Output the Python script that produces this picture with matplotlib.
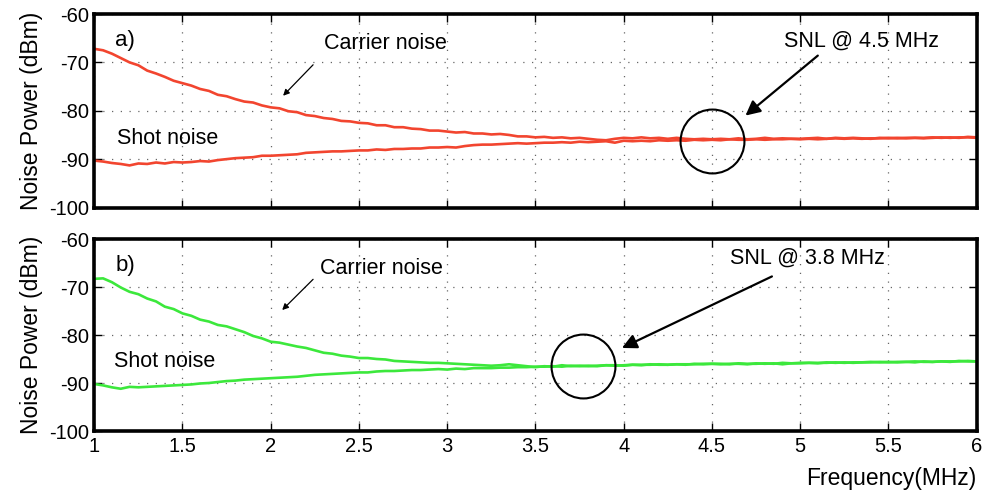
import numpy as np
import matplotlib
matplotlib.use("Agg")
import matplotlib.pyplot as plt

plt.rcParams['font.family'] = ['Liberation Sans', 'DejaVu Sans']
plt.rcParams['axes.unicode_minus'] = False

freq = np.round(np.arange(1.0, 6.0001, 0.05), 2)

a_carrier = [-67.2, -67.5, -68.2, -69.1, -70.0, -70.6, -71.7, -72.3, -73.0, -73.8,
             -74.3, -74.8, -75.5, -75.9, -76.7, -77.0, -77.6, -78.1, -78.3, -78.9,
             -79.3, -79.5, -80.1, -80.3, -80.9, -81.1, -81.5, -81.7, -82.1, -82.2,
             -82.5, -82.6, -83.0, -83.0, -83.4, -83.4, -83.7, -83.8, -84.1, -84.1,
             -84.3, -84.5, -84.4, -84.7, -84.7, -84.9, -84.8, -85.0, -85.3, -85.3,
             -85.5, -85.4, -85.6, -85.5, -85.7, -85.6, -85.8, -86.0, -86.1, -85.8,
             -85.6, -85.7, -85.5, -85.7, -85.6, -85.8, -85.6, -85.8, -85.9, -85.8,
             -85.9, -85.8, -85.9, -85.7, -85.9, -85.8, -85.6, -85.8, -85.7, -85.8,
             -85.8, -85.7, -85.6, -85.8, -85.6, -85.7, -85.6, -85.7, -85.8, -85.6,
             -85.7, -85.6, -85.7, -85.6, -85.6, -85.5, -85.6, -85.5, -85.6, -85.4,
             -85.5]
a_shot = [-90.3, -90.5, -90.8, -91.0, -91.3, -90.9, -91.0, -90.7, -90.9, -90.6,
          -90.7, -90.6, -90.4, -90.5, -90.2, -90.0, -89.8, -89.7, -89.6, -89.3,
          -89.3, -89.2, -89.1, -89.0, -88.7, -88.6, -88.5, -88.4, -88.4, -88.3,
          -88.2, -88.2, -88.0, -88.1, -87.9, -87.9, -87.8, -87.8, -87.6, -87.6,
          -87.5, -87.6, -87.3, -87.1, -87.0, -87.0, -86.9, -86.8, -86.7, -86.8,
          -86.7, -86.6, -86.6, -86.5, -86.6, -86.4, -86.5, -86.4, -86.3, -86.6,
          -86.2, -86.3, -86.2, -86.3, -86.1, -86.2, -86.1, -86.2, -86.0, -86.1,
          -86.0, -86.1, -85.9, -86.0, -86.0, -85.9, -86.0, -85.9, -85.9, -85.8,
          -85.9, -85.8, -85.9, -85.8, -85.7, -85.8, -85.7, -85.8, -85.7, -85.7,
          -85.6, -85.7, -85.6, -85.6, -85.7, -85.6, -85.5, -85.6, -85.5, -85.5,
          -85.6]
b_carrier = [-68.3, -68.2, -69.0, -70.1, -71.0, -71.5, -72.4, -73.0, -74.1, -74.6,
             -75.5, -76.0, -76.8, -77.2, -77.9, -78.2, -78.8, -79.4, -80.2, -80.7,
             -81.4, -81.6, -82.0, -82.4, -82.7, -83.2, -83.7, -83.9, -84.3, -84.5,
             -84.8, -84.8, -85.0, -85.1, -85.4, -85.5, -85.6, -85.7, -85.8, -85.8,
             -85.9, -86.0, -86.1, -86.2, -86.3, -86.4, -86.3, -86.1, -86.3, -86.5,
             -86.7, -86.5, -86.6, -86.3, -86.5, -86.4, -86.5, -86.4, -86.3, -86.4,
             -86.3, -86.2, -86.3, -86.1, -86.2, -86.2, -86.1, -86.2, -86.0, -86.1,
             -86.0, -86.1, -86.0, -86.0, -86.1, -85.9, -86.0, -85.9, -86.1, -85.9,
             -85.8, -85.8, -85.9, -85.7, -85.8, -85.7, -85.8, -85.7, -85.7, -85.6,
             -85.7, -85.6, -85.6, -85.7, -85.5, -85.6, -85.5, -85.6, -85.4, -85.5,
             -85.5]
b_shot = [-90.2, -90.5, -90.9, -91.2, -90.8, -90.9, -90.8, -90.7, -90.6, -90.5,
          -90.4, -90.3, -90.1, -90.0, -89.8, -89.6, -89.5, -89.3, -89.2, -89.1,
          -89.0, -88.9, -88.8, -88.7, -88.5, -88.3, -88.2, -88.1, -88.0, -87.9,
          -87.8, -87.8, -87.6, -87.5, -87.5, -87.4, -87.3, -87.3, -87.2, -87.1,
          -87.2, -87.0, -87.1, -86.9, -86.9, -86.9, -86.8, -86.8, -86.7, -86.7,
          -86.6, -86.6, -86.5, -86.6, -86.4, -86.5, -86.4, -86.5, -86.3, -86.3,
          -86.4, -86.2, -86.2, -86.2, -86.1, -86.2, -86.1, -86.1, -86.1, -86.0,
          -86.0, -86.0, -86.1, -85.9, -86.0, -86.0, -85.9, -86.0, -85.8, -85.9,
          -85.9, -85.8, -85.8, -85.8, -85.7, -85.8, -85.7, -85.7, -85.6, -85.7,
          -85.6, -85.7, -85.6, -85.5, -85.6, -85.6, -85.5, -85.5, -85.5, -85.4,
          -85.5]

x_ticks = [1, 1.5, 2, 2.5, 3, 3.5, 4, 4.5, 5, 5.5, 6]
x_ticklabels = ['1', '1.5', '2', '2.5', '3', '3.5', '4', '4.5', '5', '5.5', '6']
y_ticks = [-100, -90, -80, -70, -60]
y_ticklabels = ['-100', '-90', '-80', '-70', '-60']

panels = [
    dict(tag='a)', carrier=a_carrier, shot=a_shot, color='#f2452f',
         snl_text='SNL @ 4.5 MHz', snl_f=4.5, snl_db=-86.3,
         snl_text_xy=(5.35, -65.6), snl_arrow_start=(5.1, -68.6), snl_arrow_end=(4.69, -81.0),
         car_text_xy=(2.3, -66.2), car_start=(2.24, -70.5), car_end=(2.07, -76.9),
         shot_xy=(1.13, -85.8)),
    dict(tag='b)', carrier=b_carrier, shot=b_shot, color='#3ce83c',
         snl_text='SNL @ 3.8 MHz', snl_f=3.77, snl_db=-86.4,
         snl_text_xy=(5.04, -64.1), snl_arrow_start=(4.84, -67.8), snl_arrow_end=(3.99, -82.7),
         car_text_xy=(2.28, -66.1), car_start=(2.24, -68.4), car_end=(2.065, -74.8),
         shot_xy=(1.11, -85.6)),
]

fig = plt.figure(figsize=(9.87, 5.0), dpi=100)
ax_top = fig.add_axes([0.0955, 0.585, 0.894, 0.387])
ax_bot = fig.add_axes([0.0955, 0.138, 0.894, 0.384])

for ax, p in zip([ax_top, ax_bot], panels):
    ax.plot(freq, p['carrier'], color=p['color'], lw=1.9, solid_joinstyle='round')
    ax.plot(freq, p['shot'], color=p['color'], lw=1.9, solid_joinstyle='round')
    ax.set_xlim(1, 6)
    ax.set_ylim(-100, -60)
    ax.set_xticks(x_ticks)
    ax.set_yticks(y_ticks)
    ax.set_yticklabels(y_ticklabels)
    ax.grid(True, color='#666666', linestyle=(0, (1, 6)), linewidth=0.9)
    ax.tick_params(direction='in', top=True, right=True, length=6, width=1,
                   labelsize=14.5, pad=4)
    for s in ax.spines.values():
        s.set_linewidth(2.6)
    ax.set_ylabel('Noise Power (dBm)', fontsize=16.5, labelpad=4)

    ax.text(1.12, -65.5, p['tag'], fontsize=16, ha='left', va='center')
    ax.text(p['car_text_xy'][0], p['car_text_xy'][1], 'Carrier noise', fontsize=15.5,
            ha='left', va='center')
    ax.annotate('', xy=p['car_end'], xytext=p['car_start'],
                arrowprops=dict(arrowstyle='-|>', color='black', lw=0.9,
                                mutation_scale=9, shrinkA=0, shrinkB=0))
    ax.text(p['shot_xy'][0], p['shot_xy'][1], 'Shot noise', fontsize=15.5,
            ha='left', va='center')
    ax.text(p['snl_text_xy'][0], p['snl_text_xy'][1], p['snl_text'], fontsize=15.5,
            ha='center', va='center')
    ax.annotate('', xy=p['snl_arrow_end'], xytext=p['snl_arrow_start'],
                arrowprops=dict(arrowstyle='-|>', color='black', lw=1.6,
                                mutation_scale=22, shrinkA=0, shrinkB=0))
    ax.plot([p['snl_f']], [p['snl_db']], marker='o', ms=46, mfc='none',
            mec='black', mew=1.5, clip_on=False)

ax_top.tick_params(labelbottom=False)
ax_bot.set_xticklabels(x_ticklabels)
ax_bot.set_xlabel('Frequency(MHz)', fontsize=16.5, loc='right', labelpad=8)

fig.savefig('out.png', dpi=100)
